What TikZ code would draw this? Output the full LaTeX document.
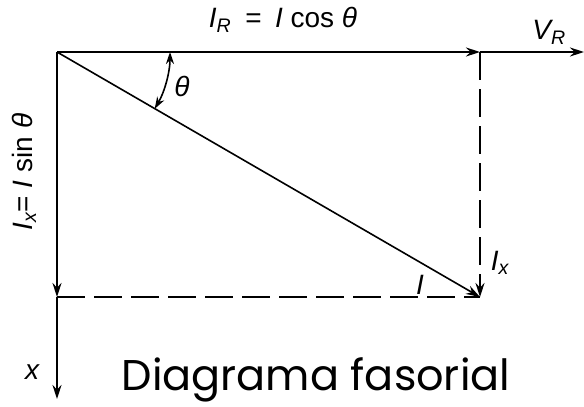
\documentclass[tikz,border=0pt]{standalone}
\usepackage{fontspec}
\setmainfont{Liberation Sans}
\newfontfamily\titlefont{Poppins}
\usetikzlibrary{arrows.meta}
\begin{document}
\begin{tikzpicture}[x=1pt,y=-1pt,
  vec/.style={line width=1.6pt,-{Stealth[length=14pt,width=9pt]}},
  dashline/.style={line width=1.6pt,dash pattern=on 28pt off 9pt},
  lbl/.style={font=\fontsize{28}{32}\selectfont\itshape,inner sep=0pt}]
\useasboundingbox (0,0) rectangle (584,407);
\coordinate (O) at (57,52);
\coordinate (A) at (480,52);
\coordinate (V) at (584,52);
\coordinate (B) at (480,297);
\coordinate (C) at (57,297);
\coordinate (X) at (57,399);
\draw[vec] (O) -- (A);
\draw[vec] (A) -- (V);
\draw[vec] (O) -- (C);
\draw[vec] (C) -- (X);
\draw[vec] (O) -- (B);
\draw[dashline] (C) -- (B);
\draw[dashline,-{Stealth[length=14pt,width=9pt]}] (A) -- (B);
\draw[line width=1.6pt,{Stealth[length=12pt,width=8pt]}-{Stealth[length=12pt,width=8pt]}] (O) ++(0:113) arc[start angle=0,end angle=30.2,radius=113];
\node[lbl] (iR) at (283,20) {I\textsubscript{R}\hspace{0.5em}{\upshape =}\hspace{0.2em} I {\upshape cos} θ};
\node[lbl] (vR) at (549,32) {V\textsubscript{R}};
\node[lbl] (th) at (182,86) {θ};
\node[lbl,rotate=90] (ix1) at (24,172) {I\textsubscript{x}{\upshape=} I {\upshape sin} θ};
\node[lbl] (ix2) at (500,263) {I\textsubscript{x}};
\node[lbl] (ii) at (420,285) {I};
\node[lbl] (xx) at (32,372) {x};
\node[font=\titlefont\fontsize{43}{46}\selectfont,inner sep=0pt] (t) at (316,380) {Diagrama fasorial};
\end{tikzpicture}
\end{document}
